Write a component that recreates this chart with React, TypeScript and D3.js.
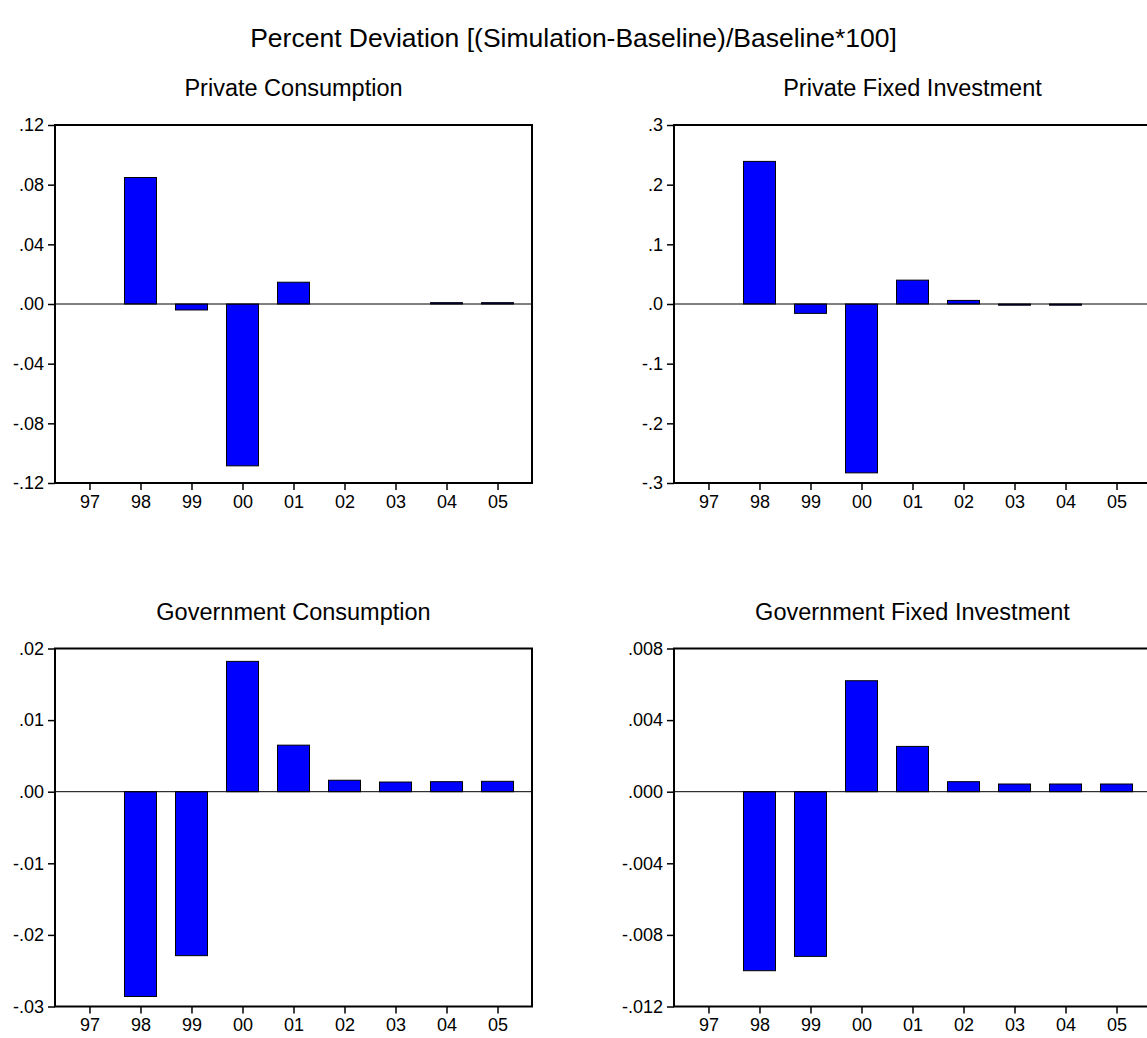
import { useEffect, useRef } from 'react';
import * as d3 from 'd3';

// categories (years)
const years = ['97', '98', '99', '00', '01', '02', '03', '04', '05'];

// series values, percent deviation (null = no bar)
const privateConsumption = [null, 0.0848, -0.004, -0.1085, 0.0146, 0, 0, 0.0009, 0.0009];
const privateFixedInvestment = [null, 0.239, -0.0157, -0.283, 0.04, 0.006, -0.002, -0.002, 0];
const governmentConsumption = [null, -0.0286, -0.0229, 0.0182, 0.0065, 0.0016, 0.00135, 0.0014, 0.00145];
const governmentFixedInvestment = [null, -0.01, -0.0092, 0.0062, 0.00253, 0.00056, 0.00043, 0.00043, 0.00043];

// y tick values
const pcTicks = [-0.12, -0.08, -0.04, 0, 0.04, 0.08, 0.12];
const pfiTicks = [-0.3, -0.2, -0.1, 0, 0.1, 0.2, 0.3];
const gcTicks = [-0.03, -0.02, -0.01, 0, 0.01, 0.02];
const gfiTicks = [-0.012, -0.008, -0.004, 0, 0.004, 0.008];

const mainTitle = 'Percent Deviation [(Simulation-Baseline)/Baseline*100]';

const FONT = 'Arial, "Liberation Sans", Helvetica, sans-serif';

// strip the leading zero like ".12" / "-.04"
const fmt = (v: number, digits: number) => {
  const s = Math.abs(v).toFixed(digits).replace(/^0/, '');
  return (v < 0 ? '-' : '') + s;
};

const App = () => {
  const svgRef = useRef<SVGSVGElement>(null);

  useEffect(() => {
    const svg = d3.select(svgRef.current);
    svg.selectAll('*').remove();

    const W = 1147;
    const H = 1038;
    const pw = 477;
    const ph = 358;

    svg.append('rect').attr('width', W).attr('height', H).attr('fill', '#fff');

    svg.append('text')
      .attr('x', W / 2)
      .attr('y', 47)
      .attr('text-anchor', 'middle')
      .style('font-family', FONT)
      .style('font-size', '26.5px')
      .text(mainTitle);

    const panels = [
      { title: 'Private Consumption', values: privateConsumption, ticks: pcTicks, digits: 2, left: 55, top: 125 },
      { title: 'Private Fixed Investment', values: privateFixedInvestment, ticks: pfiTicks, digits: 1, left: 674, top: 125 },
      { title: 'Government Consumption', values: governmentConsumption, ticks: gcTicks, digits: 2, left: 55, top: 648.5 },
      { title: 'Government Fixed Investment', values: governmentFixedInvestment, ticks: gfiTicks, digits: 3, left: 674, top: 648.5 },
    ];

    panels.forEach(p => {
      const g = svg.append('g').attr('transform', `translate(${p.left},${p.top})`);

      const x = d3.scalePoint<string>()
        .domain(years)
        .range([0, pw])
        .padding(0.676);

      const y = d3.scaleLinear()
        .domain([p.ticks[0], p.ticks[p.ticks.length - 1]])
        .range([ph, 0]);

      const barW = 32;

      // title
      g.append('text')
        .attr('x', pw / 2)
        .attr('y', -29)
        .attr('text-anchor', 'middle')
        .style('font-family', FONT)
        .style('font-size', '23.5px')
        .text(p.title);

      // bars
      const data = years.map((yr, i) => ({ yr, v: p.values[i] })).filter(d => d.v !== null) as { yr: string; v: number }[];
      g.selectAll('.bar')
        .data(data)
        .enter().append('rect')
        .attr('class', 'bar')
        .attr('x', d => (x(d.yr) as number) - barW / 2)
        .attr('y', d => y(Math.max(0, d.v)))
        .attr('width', barW)
        .attr('height', d => Math.abs(y(d.v) - y(0)))
        .attr('fill', '#0000ff')
        .attr('stroke', '#000')
        .attr('stroke-width', 1);

      // zero line
      g.append('line')
        .attr('x1', 0)
        .attr('x2', pw)
        .attr('y1', y(0))
        .attr('y2', y(0))
        .attr('stroke', '#000')
        .attr('stroke-width', 1);

      // axes
      const yAxis = g.append('g')
        .call(d3.axisLeft(y).tickValues(p.ticks).tickSize(7).tickSizeOuter(0).tickPadding(4)
          .tickFormat(d => fmt(d as number, p.digits)));
      const xAxis = g.append('g')
        .attr('transform', `translate(0,${ph})`)
        .call(d3.axisBottom(x).tickSize(7).tickSizeOuter(0).tickPadding(5));

      [yAxis, xAxis].forEach(a => {
        a.select('.domain').remove();
        a.selectAll('line').attr('stroke', '#000').attr('stroke-width', 1.5);
        a.selectAll('text')
          .style('font-family', FONT)
          .style('font-size', '18px')
          .attr('fill', '#000');
      });

      // frame
      g.append('rect')
        .attr('width', pw)
        .attr('height', ph)
        .attr('fill', 'none')
        .attr('stroke', '#000')
        .attr('stroke-width', 2);
    });
  }, []);

  return (
    <svg ref={svgRef} width={1147} height={1038}
      style={{ position: 'absolute', left: 0, top: 0, display: 'block' }} />
  );
};

export default App;
